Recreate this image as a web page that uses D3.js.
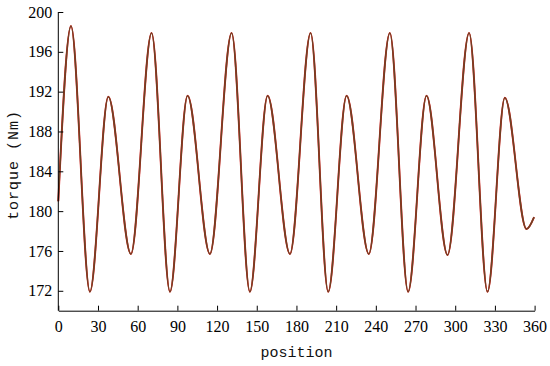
<!DOCTYPE html>
<html>

<head>
    <title>Torque vs position</title>
    <script src="https://d3js.org/d3.v7.min.js"></script>
    <style>
        body {
            margin: 0;
            background: #fff;
        }

        .tick text {
            font: 16px "Liberation Serif", serif;
            fill: #000;
        }

        .axis path,
        .axis line {
            stroke: #000;
            stroke-width: 1px;
        }

        .label {
            font: 15px "Liberation Mono", monospace;
            fill: #111;
        }
    </style>
</head>

<body>
    <script>
        // values: extrema of the torque curve
        var position = [0, 9.6, 23.9, 37.8, 54.9, 70.5, 84.4, 97.7, 114.6, 131, 144.8, 158.2,
            175.1, 190.7, 204, 217.9, 234.7, 250.6, 264.4, 278.3, 294.2, 310.5, 324.4,
            337.5, 353.9, 359.6];
        var torque = [181.0, 198.6, 171.9, 191.5, 175.7, 197.9, 171.9, 191.6, 175.7, 197.9, 171.9, 191.6,
            175.7, 197.9, 171.9, 191.6, 175.7, 197.9, 171.9, 191.6, 175.6, 197.9, 171.9,
            191.4, 178.2, 179.4];
        var xTicks = [0, 30, 60, 90, 120, 150, 180, 210, 240, 270, 300, 330, 360];
        var yTicks = [172, 176, 180, 184, 188, 192, 196, 200];

        var width = 550, height = 366;
        var x0 = 58.3, x1 = 534.6, yTop = 12, yBottom = 310.7;

        var svg = d3.select("body").append("svg")
            .attr("width", width)
            .attr("height", height);

        var x = d3.scaleLinear().domain([0, 360]).range([x0, x1]);
        var y = d3.scaleLinear().domain([170, 200]).range([yBottom, yTop]);

        var data = position.map((p, i) => ({ p: p, t: torque[i] }));

        var line = d3.line()
            .x(d => x(d.p))
            .y(d => y(d.t))
            .curve(d3.curveMonotoneX);

        // red series under the dark one
        svg.append("path")
            .datum(data)
            .attr("fill", "none")
            .attr("stroke", "#e01010")
            .attr("stroke-width", 1.9)
            .attr("d", line);

        svg.append("path")
            .datum(data)
            .attr("fill", "none")
            .attr("stroke", "#6a4426")
            .attr("stroke-width", 1.5)
            .attr("d", line);

        var xAxis = svg.append("g")
            .attr("class", "axis")
            .attr("transform", "translate(0," + yBottom + ")")
            .call(d3.axisBottom(x).tickValues(xTicks).tickSizeInner(-5).tickSizeOuter(0).tickPadding(10));

        var yAxis = svg.append("g")
            .attr("class", "axis")
            .attr("transform", "translate(" + x0 + ",0)")
            .call(d3.axisLeft(y).tickValues(yTicks).tickSizeInner(-5).tickSizeOuter(0).tickPadding(6));

        yAxis.select(".domain").attr("d", "M0," + yTop + "V" + yBottom);

        svg.append("text")
            .attr("class", "label")
            .attr("x", (x0 + x1) / 2)
            .attr("y", 357)
            .attr("text-anchor", "middle")
            .text("position");

        svg.append("text")
            .attr("class", "label")
            .attr("transform", "translate(18," + 165 + ") rotate(-90)")
            .attr("text-anchor", "middle")
            .style("letter-spacing", "1px")
            .text("torque (Nm)");
    </script>
</body>

</html>
